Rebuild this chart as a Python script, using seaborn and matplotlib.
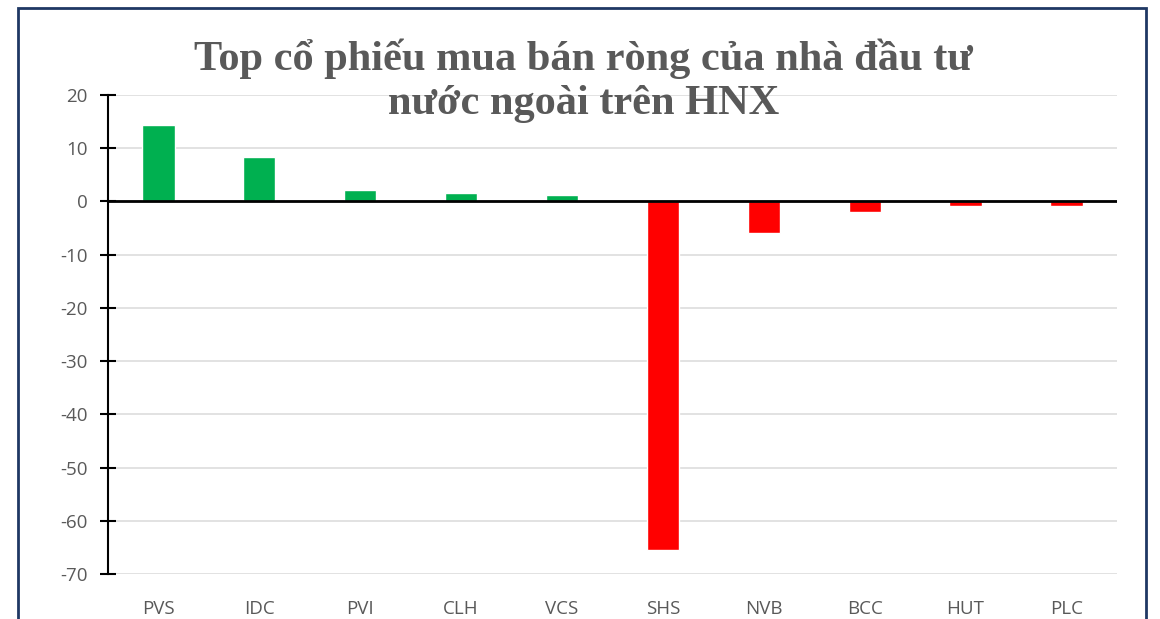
import matplotlib
matplotlib.use("Agg")
import pandas as pd
import seaborn as sns
import matplotlib.pyplot as plt
from matplotlib.patches import Rectangle

# -------------------------------
# Data
# -------------------------------
tickers = ["PVS", "IDC", "PVI", "CLH", "VCS", "SHS", "NVB", "BCC", "HUT", "PLC"]
net_values = [14.4, 8.4, 2.2, 1.6, 1.2, -65.5, -6.0, -2.0, -0.8, -0.8]
y_ticks = [20, 10, 0, -10, -20, -30, -40, -50, -60, -70]
title_text = "Top cổ phiếu mua bán ròng của nhà đầu tư\nnước ngoài trên HNX"

GREEN = "#00B050"
RED = "#FF0000"
GRAY_TXT = "#595959"

df = pd.DataFrame({"Ticker": tickers, "Value": net_values})
colors = [GREEN if v >= 0 else RED for v in net_values]

# -------------------------------
# Plot
# -------------------------------
sns.set_theme(style="white")
plt.rcParams["font.family"] = ["Open Sans", "DejaVu Sans"]
plt.rcParams["axes.unicode_minus"] = False

fig = plt.figure(figsize=(11.6, 6.19), dpi=100)
ax = fig.add_axes([0.0931, 0.0727, 0.8698, 0.7738])

sns.barplot(data=df, x="Ticker", y="Value", hue="Ticker", palette=colors,
            width=0.32, legend=False, ax=ax, saturation=1, zorder=2)

ax.set_ylim(-70, 20)
ax.set_xlim(-0.5, len(tickers) - 0.5)
ax.set_yticks(y_ticks)
ax.yaxis.grid(True, color="#DDDDDD", linewidth=1.2, zorder=0)
ax.axhline(0, color="black", linewidth=2, zorder=3)

for s in ["top", "right", "bottom"]:
    ax.spines[s].set_visible(False)
ax.spines["left"].set_color("black")
ax.spines["left"].set_linewidth(1.5)

ax.tick_params(axis="y", direction="inout", length=11, width=1.5,
               colors="black", labelcolor=GRAY_TXT, labelsize=13.5, pad=9, left=True)
ax.tick_params(axis="x", length=0, labelcolor=GRAY_TXT, labelsize=13.5, pad=19)
ax.set_xlabel("")
ax.set_ylabel("")

fig.text(0.503, 0.869, title_text, ha="center", va="center",
         fontsize=30.5, fontweight="bold", color=GRAY_TXT,
         family=["Liberation Serif", "DejaVu Serif"], linespacing=1.2)

# chart border
fig.patches.append(Rectangle((18 / 1160, -0.05), (1146 - 18) / 1160, 1.05 - 8 / 619,
                             transform=fig.transFigure, fill=False,
                             edgecolor="#1F3864", linewidth=2))

fig.savefig("out.png", dpi=100)
plt.close()
